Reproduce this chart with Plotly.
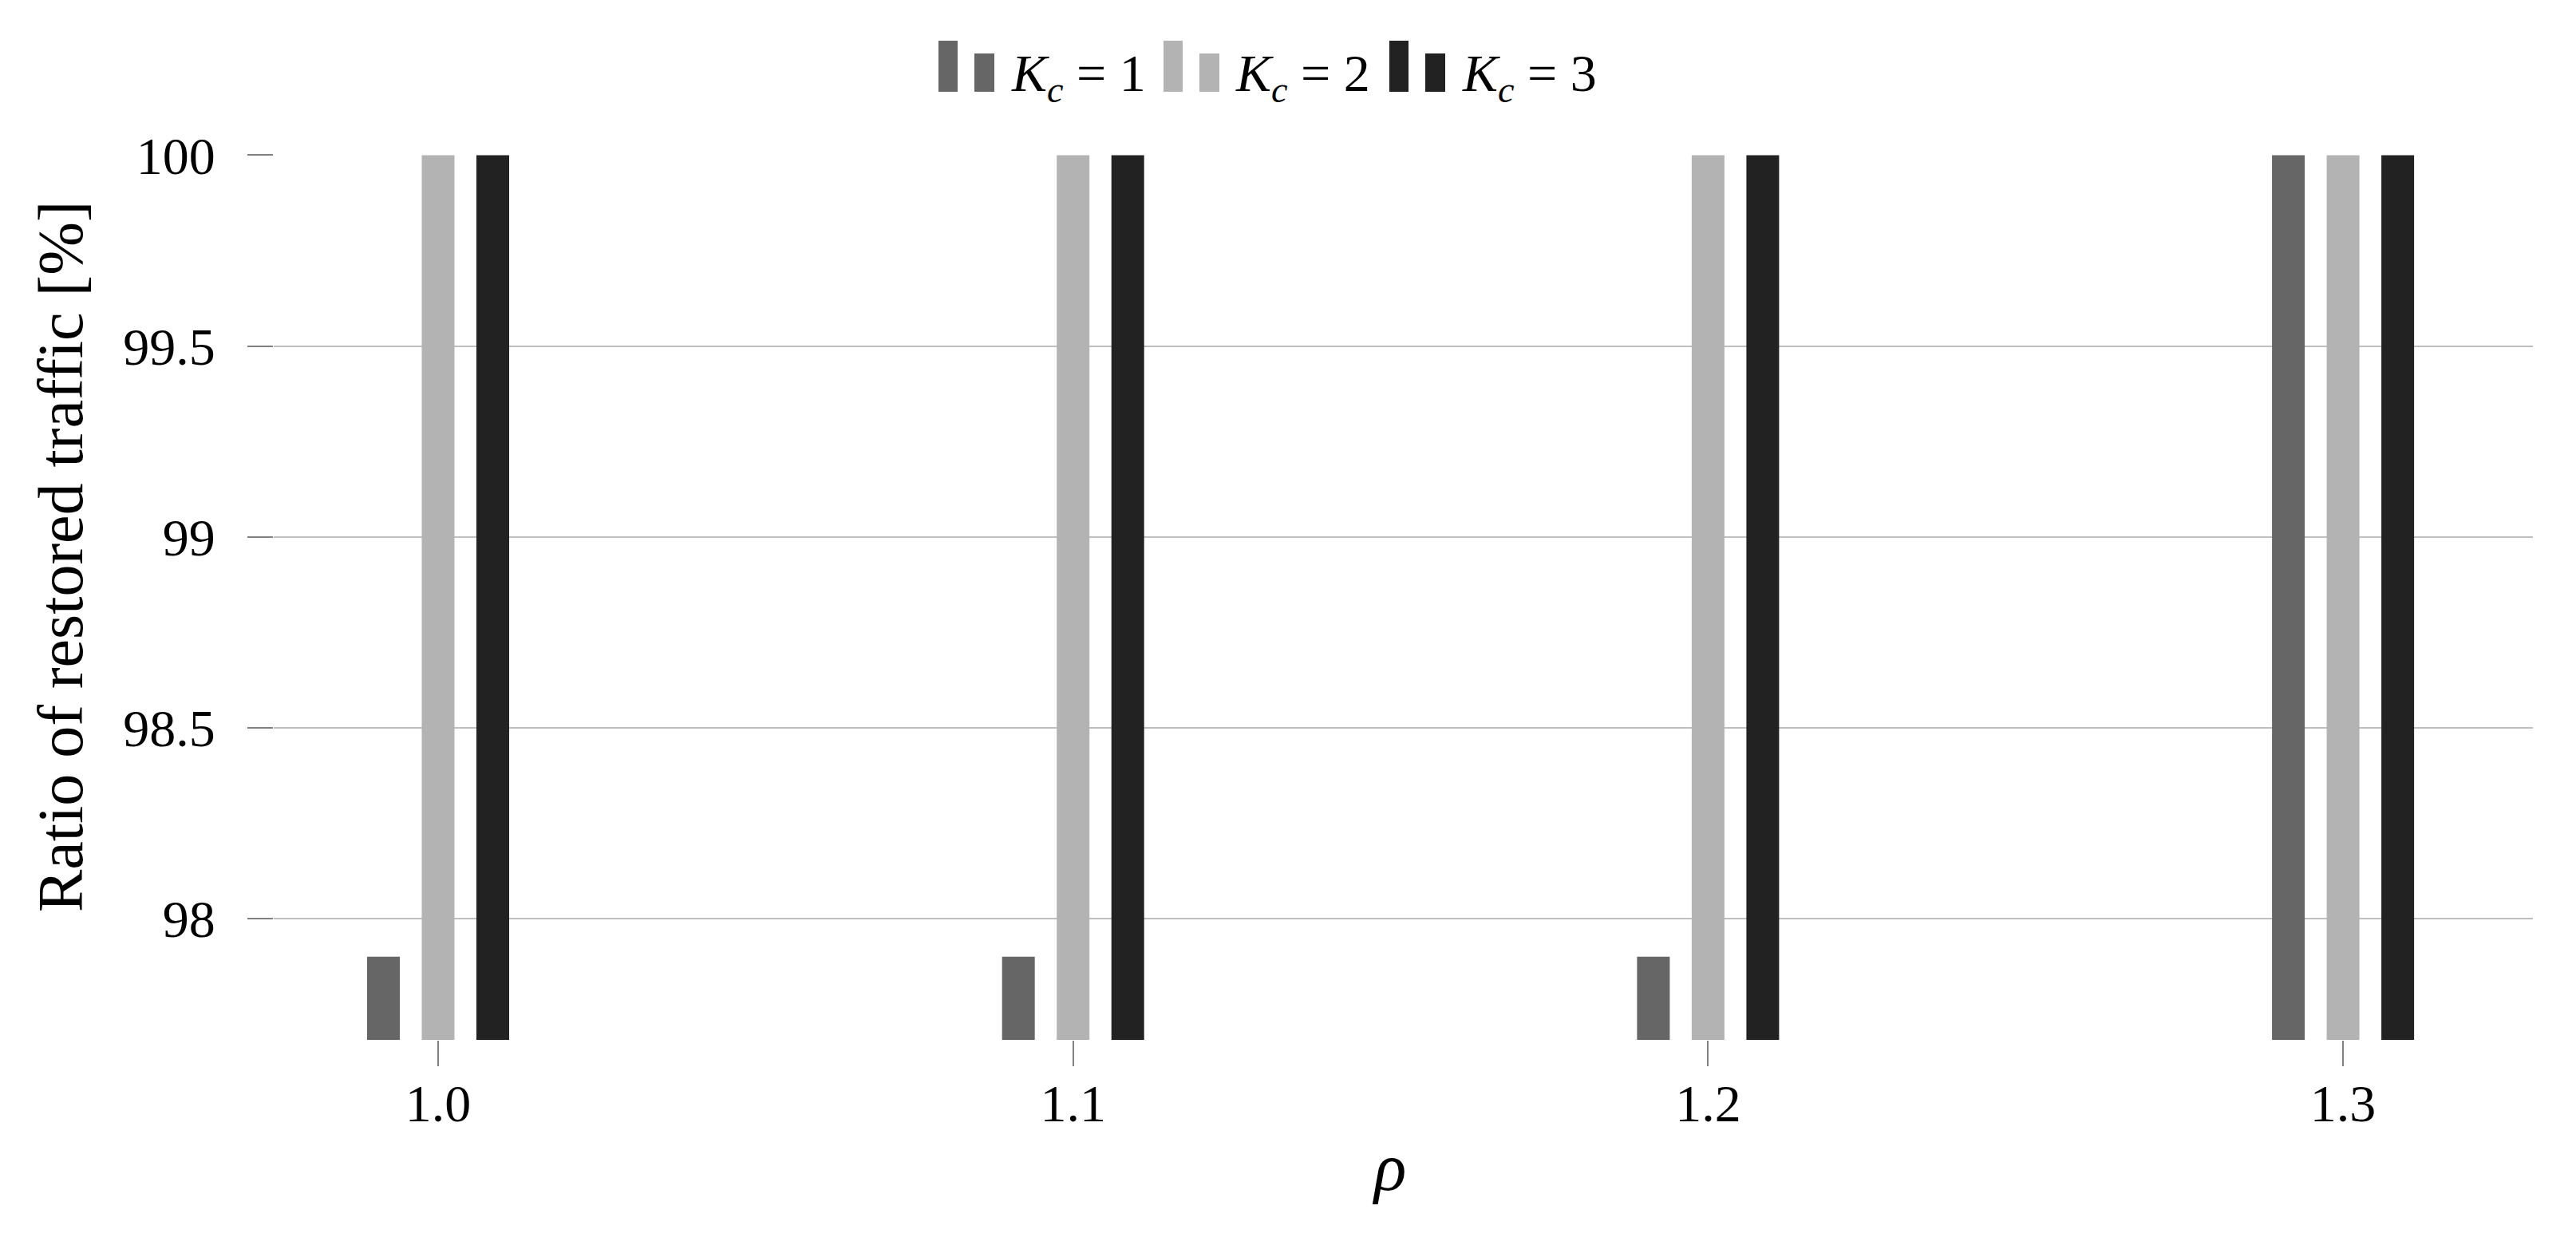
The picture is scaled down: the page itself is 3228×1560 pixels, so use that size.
import plotly.graph_objects as go

rho = ["1.0", "1.1", "1.2", "1.3"]
kc1 = [97.9, 97.9, 97.9, 100.0]
kc2 = [100.0, 100.0, 100.0, 100.0]
kc3 = [100.0, 100.0, 100.0, 100.0]
series_names = ["<i>K</i><sub><i>c</i></sub> = 1",
                "<i>K</i><sub><i>c</i></sub> = 2",
                "<i>K</i><sub><i>c</i></sub> = 3"]
colors = ["#666666", "#b3b3b3", "#222222"]
ytick_vals = [98, 98.5, 99, 99.5, 100]
ytick_text = ["98", "98.5", "99", "99.5", "100"]

FONT = "Liberation Serif"

# page has an 8px body margin; plot area (page px): x 343..3174, y 194..1303
PL, PR, PT, PB = 343, 3174, 194, 1303


def px_x(X):
    return (X - PL) / (PR - PL)


def px_y(Y):
    return (PB - Y) / (PB - PT)


fig = go.Figure()
for name, vals, col in zip(series_names, [kc1, kc2, kc3], colors):
    fig.add_trace(go.Bar(x=rho, y=vals, name=name, showlegend=False,
                         marker=dict(color=col, line=dict(width=0))))

# custom legend (two-bar icon + label), as in the reference
legend_icon_x = [1176, 1458, 1741]
legend_text_x = [1265, 1546, 1830]
shapes = []
annotations = []
for i, (name, col) in enumerate(zip(series_names, colors)):
    x0 = legend_icon_x[i]
    shapes.append(dict(type="rect", xref="paper", yref="paper",
                       x0=px_x(x0), x1=px_x(x0 + 24), y0=px_y(115), y1=px_y(51),
                       fillcolor=col, line=dict(width=0)))
    shapes.append(dict(type="rect", xref="paper", yref="paper",
                       x0=px_x(x0 + 45), x1=px_x(x0 + 70), y0=px_y(115), y1=px_y(67),
                       fillcolor=col, line=dict(width=0)))
    annotations.append(dict(text=name, xref="paper", yref="paper",
                            x=px_x(legend_text_x[i]), y=px_y(96),
                            xanchor="left", yanchor="middle", showarrow=False,
                            font=dict(size=66, family=FONT, color="black")))

annotations.append(dict(text="Ratio of restored traffic [%]", textangle=-90,
                        xref="paper", yref="paper", x=px_x(76), y=px_y(698),
                        xanchor="center", yanchor="middle", showarrow=False,
                        font=dict(size=80, family=FONT, color="black")))
annotations.append(dict(text="<i>ρ</i>", xref="paper", yref="paper",
                        x=px_x(1740), y=px_y(1462),
                        xanchor="center", yanchor="middle", showarrow=False,
                        font=dict(size=84, family=FONT, color="black")))

fig.update_layout(
    width=3212, height=1544,
    paper_bgcolor="white", plot_bgcolor="white",
    margin=dict(l=335, r=46, t=186, b=249),
    barmode="group", bargap=0.7417, bargroupgap=0.4015,
    font=dict(family=FONT, size=66, color="black"),
    showlegend=False,
    shapes=shapes,
    annotations=annotations,
)
fig.update_xaxes(
    type="category", range=[-0.2589, 3.299],
    showgrid=False, showline=False, zeroline=False,
    ticks="outside", ticklen=32, tickwidth=2, tickcolor="#808080",
    tickfont=dict(size=66, family=FONT), ticklabelstandoff=-10,
    automargin=False,
)
fig.update_yaxes(
    range=[97.682, 100.001],
    tickvals=ytick_vals, ticktext=ytick_text,
    showgrid=True, gridcolor="#bfbfbf", gridwidth=2,
    showline=False, zeroline=False,
    ticks="outside", ticklen=32, tickwidth=2, tickcolor="#808080",
    tickfont=dict(size=66, family=FONT), ticklabelstandoff=27,
    automargin=False,
)

fig.write_html("out.html")
